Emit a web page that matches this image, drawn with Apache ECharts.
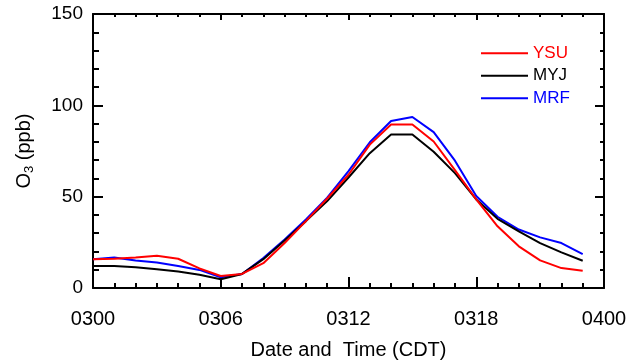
<!DOCTYPE html>
<html>
<head>
<meta charset="utf-8">
<script src="https://cdn.jsdelivr.net/npm/echarts@6/dist/echarts.min.js"></script>
<style>html,body{margin:0;padding:0;background:#fff;}#c{width:629px;height:360px;}</style>
</head>
<body>
<div id="c"></div>
<script>
const hours = [0,1,2,3,4,5,6,7,8,9,10,11,12,13,14,15,16,17,18,19,20,21,22,23];
const ysu = [15.8,16.0,16.7,17.6,16.0,10.7,6.6,7.7,13.6,24.6,36.6,49.0,62.0,78.5,89.5,89.5,80.2,64.5,48.5,33.8,22.8,15.1,10.9,9.4];
const myj = [12.1,12.0,11.4,10.3,9.0,7.2,4.8,7.7,15.8,26.0,36.6,47.6,60.5,73.8,84.0,84.0,74.6,62.9,48.5,37.9,31.0,24.6,19.5,14.9];
const mrf = [15.8,16.7,15.0,14.0,12.1,9.9,5.9,7.7,16.4,26.5,37.5,49.5,64.0,79.8,91.4,93.6,85.3,69.7,50.4,39.0,32.0,27.7,24.6,18.6];
const xTickLabels = ['0300','0306','0312','0318','0400'];
const seriesNames = ['YSU','MYJ','MRF'];
const seriesColors = ['#ff0000','#000000','#0000ff'];

const font = 'Liberation Sans, Arial, Helvetica, sans-serif';
const chart = echarts.init(document.getElementById('c'));
const pairs = arr => hours.map((h,i)=>[h,arr[i]]);
const datasets = [ysu,myj,mrf];

function axisBase(extra){
  return Object.assign({
    axisLine:{show:true,onZero:false,lineStyle:{color:'#000',width:2}},
    splitLine:{show:false},
    minorSplitLine:{show:false}
  }, extra);
}
const tick = (len)=>({show:true,inside:true,length:len,lineStyle:{color:'#000',width:2}});
const minor = (n,len)=>({show:true,splitNumber:n,length:len,lineStyle:{color:'#000',width:2}});

chart.setOption({
  animation:false,
  backgroundColor:'#fff',
  grid:{left:93,right:25,top:14,bottom:72,containLabel:false,outerBoundsMode:'none'},
  legend:{
    show:true, orient:'vertical', left:476, top:37, itemGap:0,
    itemWidth:47, itemHeight:2, icon:'rect',
    data:seriesNames.map((n,i)=>({name:n,textStyle:{color:seriesColors[i]}})),
    textStyle:{fontFamily:font,fontSize:17,lineHeight:22.5,padding:[0,0,0,0]}
  },
  xAxis:[
    axisBase({
      type:'value', min:0, max:24, interval:6, position:'bottom',
      axisTick:tick(11), minorTick:minor(6,5),
      axisLabel:{show:true, margin:21, color:'#000', fontFamily:font, fontSize:20,
        formatter:v=>xTickLabels[Math.round(v/6)]},
      name:'Date and  Time (CDT)', nameLocation:'middle', nameGap:52,
      nameTextStyle:{color:'#000',fontFamily:font,fontSize:20}
    }),
    axisBase({
      type:'value', min:0, max:24, interval:6, position:'top',
      axisTick:tick(6), minorTick:minor(6,3),
      axisLabel:{show:false}
    })
  ],
  yAxis:[
    axisBase({
      type:'value', min:0, max:150, interval:50, position:'left',
      axisTick:tick(10), minorTick:minor(5,6),
      axisLabel:{show:true, margin:10, color:'#000', fontFamily:font, fontSize:19},
      name:'{a|O}{b|3}{a| (ppb)}', nameLocation:'middle', nameGap:57, nameRotate:90,
      nameTextStyle:{color:'#000',fontFamily:font,fontSize:20,
        rich:{a:{fontFamily:font,fontSize:20,color:'#000'},
              b:{fontFamily:font,fontSize:13,color:'#000',verticalAlign:'bottom',padding:[10,0,0,0]}}}
    }),
    axisBase({
      type:'value', min:0, max:150, interval:50, position:'right',
      axisTick:tick(9), minorTick:minor(5,4),
      axisLabel:{show:false}
    })
  ],
  series: datasets.map((d,i)=>({
    name:seriesNames[i], type:'line', data:pairs(d), showSymbol:false, symbol:'none',
    lineStyle:{color:seriesColors[i],width:2}, itemStyle:{color:seriesColors[i]},
    xAxisIndex:0, yAxisIndex:0, z:3-i
  }))
});
</script>
</body>
</html>
